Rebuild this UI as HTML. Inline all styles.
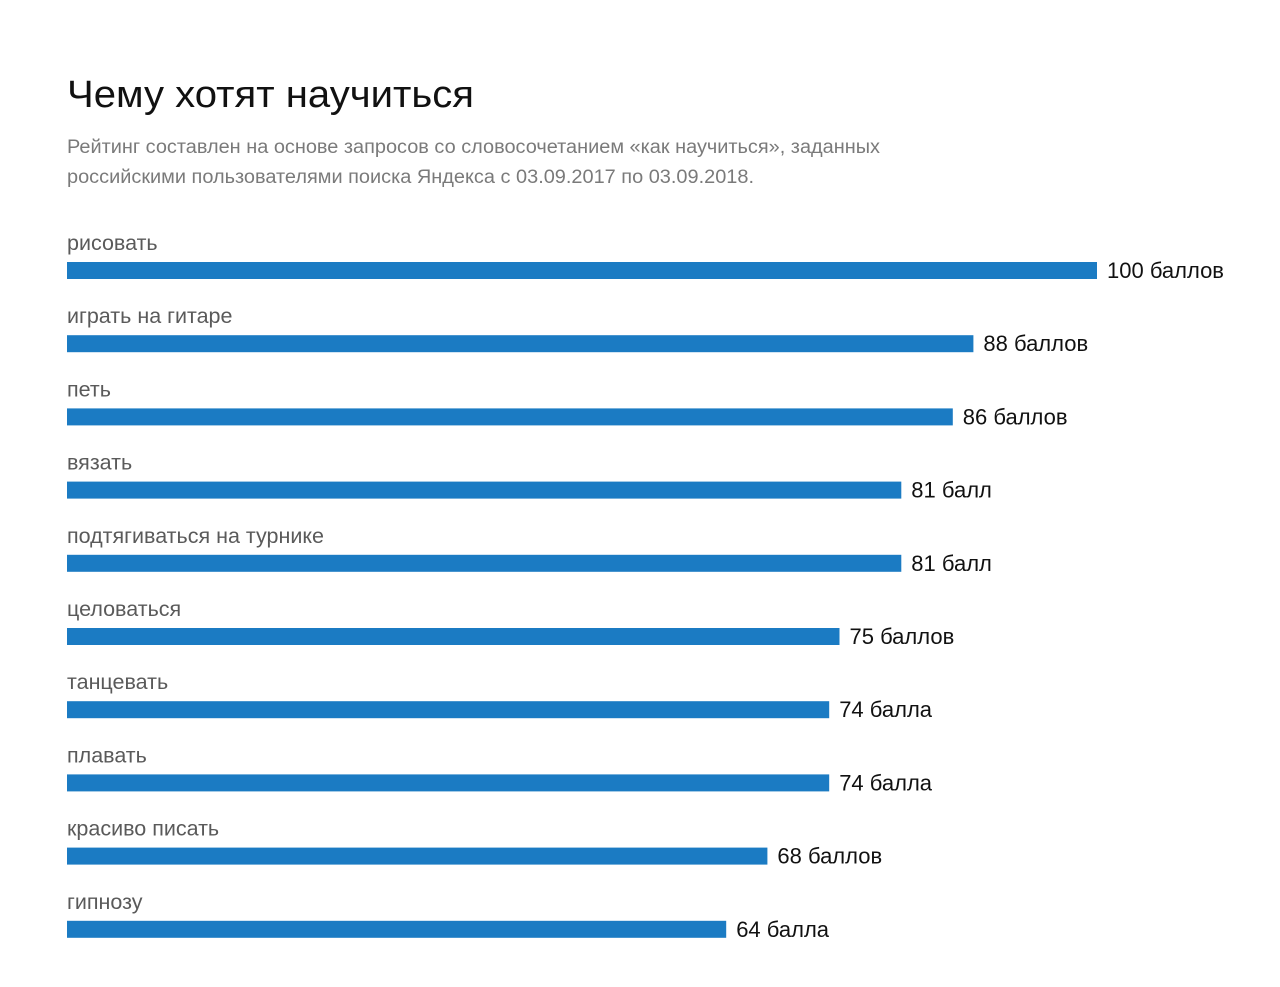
<!DOCTYPE html>
<html><head><meta charset="utf-8">
<style>
html,body{margin:0;padding:0;background:#fff;}
svg{display:block;font-family:"Liberation Sans","DejaVu Sans",sans-serif;}
</style></head>
<body>
<svg id="chart" width="1280" height="987" viewBox="0 0 1280 987">
<text x="67" y="107" font-size="38" fill="#111" textLength="407" lengthAdjust="spacingAndGlyphs">Чему хотят научиться</text>
<text x="67" y="153" font-size="19" fill="#7a7a7a" textLength="813" lengthAdjust="spacingAndGlyphs">Рейтинг составлен на основе запросов со словосочетанием «как научиться», заданных</text>
<text x="67" y="183" font-size="19" fill="#7a7a7a" textLength="687" lengthAdjust="spacingAndGlyphs">российскими пользователями поиска Яндекса с 03.09.2017 по 03.09.2018.</text>
<g id="bars"></g>
</svg>
<script>
const categories = ["рисовать","играть на гитаре","петь","вязать","подтягиваться на турнике","целоваться","танцевать","плавать","красиво писать","гипнозу"];
const values = [100,88,86,81,81,75,74,74,68,64];
const valueLabels = ["100 баллов","88 баллов","86 баллов","81 балл","81 балл","75 баллов","74 балла","74 балла","68 баллов","64 балла"];

const NS = "http://www.w3.org/2000/svg";
const x0 = 67, pxPerPoint = 10.3;
function xScale(v){ return x0 + v * pxPerPoint; }
function rowY(i){ return 262 + i * 73.2; }
const g = document.getElementById("bars");
categories.forEach((c, i) => {
  const y = rowY(i);
  const lab = document.createElementNS(NS, "text");
  
  
  lab.setAttribute("x", x0); lab.setAttribute("y", y - 12);
  lab.setAttribute("font-size", "21.5"); lab.setAttribute("fill", "#5a5a5a");
  lab.textContent = c; g.appendChild(lab);
  const r = document.createElementNS(NS, "rect");
  
  
  r.setAttribute("x", x0); r.setAttribute("y", y);
  r.setAttribute("width", xScale(values[i]) - x0); r.setAttribute("height", 17);
  r.setAttribute("fill", "#1b7bc3"); g.appendChild(r);
  const vl = document.createElementNS(NS, "text");
  
  
  vl.setAttribute("x", xScale(values[i]) + 10); vl.setAttribute("y", y + 16);
  vl.setAttribute("font-size", "22"); vl.setAttribute("fill", "#111");
  vl.textContent = valueLabels[i]; g.appendChild(vl);
});
</script>
</body></html>
